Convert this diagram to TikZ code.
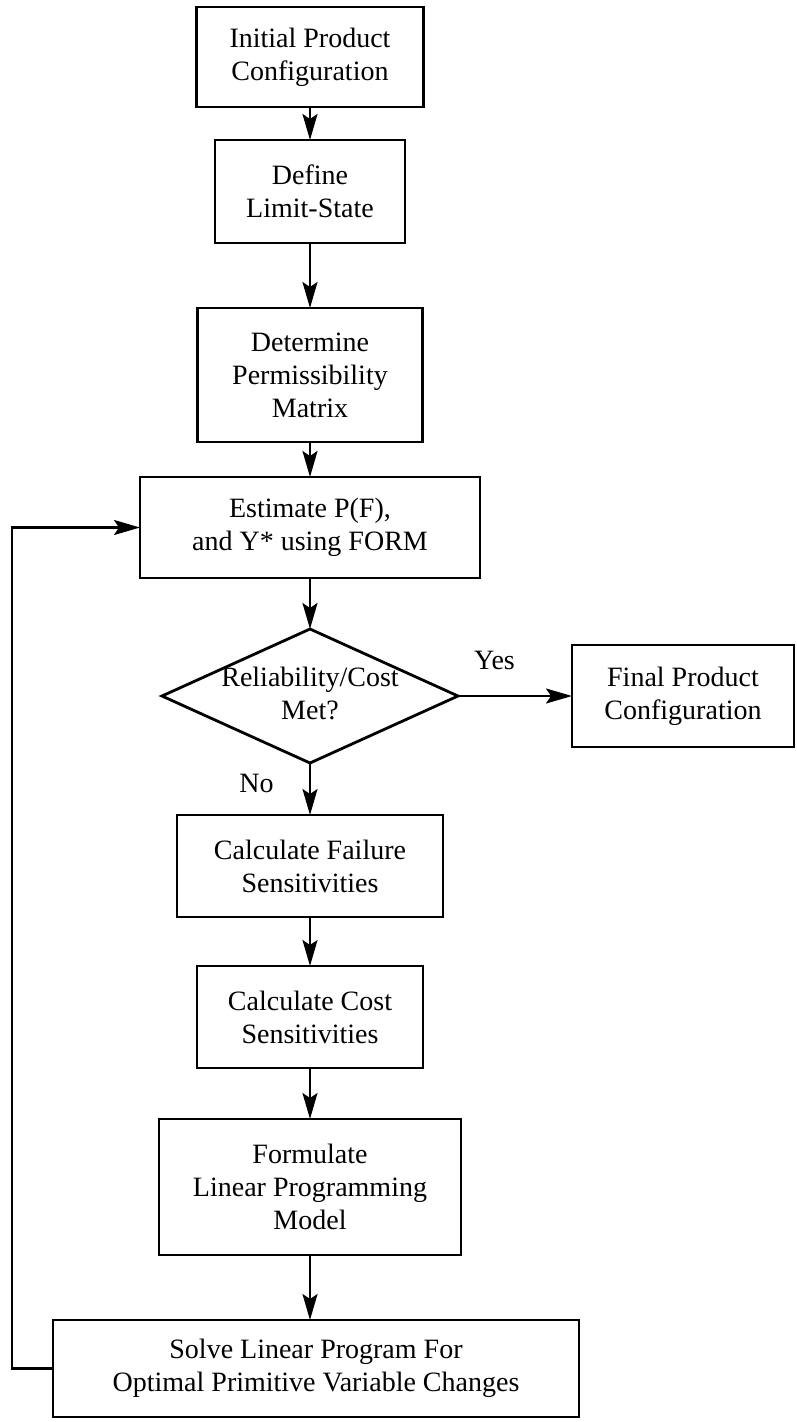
\documentclass[tikz,border=0pt]{standalone}
\usepackage{fontspec}
\setmainfont{Liberation Serif}
\usetikzlibrary{arrows.meta, positioning, shapes.geometric}

\newcommand{\flowfont}{\fontsize{28}{33}\selectfont}

\begin{document}
\begin{tikzpicture}[
  x=1pt, y=1pt,
  box/.style = {
    draw, line width=2.8pt, outer sep=0pt, align=center, inner sep=4pt, font=\flowfont
  },
  decision/.style = {
    diamond, draw, line width=2.8pt, outer sep=0pt, inner sep=0pt, aspect=2.2,
    minimum width=296pt, minimum height=134pt, font=\flowfont
  },
  arr/.style = {-{Stealth[length=26pt, width=15pt, inset=5pt]}, line width=2.2pt},
  branch/.style = {font=\flowfont},
]

\useasboundingbox[fill=white] (0,0) rectangle (797,-1422);

\node[box, minimum width=227pt, minimum height=100pt] (init) at (310,-57)
  {Initial Product\\Configuration};
\node[box, minimum width=190pt, minimum height=103pt] (limit) [below=33pt of init]
  {Define\\Limit-State};
\node[box, minimum width=225pt, minimum height=134pt] (permis) [below=65pt of limit]
  {Determine\\Permissibility\\Matrix};
\node[box, minimum width=340pt, minimum height=101pt] (estimate) [below=35pt of permis]
  {Estimate P(F),\\and Y* using FORM};
\node[decision] (check) [below=51pt of estimate]
  {\makebox[0pt]{\begin{tabular}{@{}c@{}}Reliability/Cost\\Met?\end{tabular}}};
\node[box, minimum width=222pt, minimum height=102pt] (final) [right=114pt of check]
  {Final Product\\Configuration};
\node[box, minimum width=266pt, minimum height=102pt] (failure) [below=52pt of check]
  {Calculate Failure\\Sensitivities};
\node[box, minimum width=226pt, minimum height=102pt] (cost) [below=49pt of failure]
  {Calculate Cost\\Sensitivities};
\node[box, minimum width=302pt, minimum height=136pt] (lpmodel) [below=51pt of cost]
  {Formulate\\Linear Programming\\Model};
\node[box, minimum width=526pt, minimum height=97pt] (solve) [below=65pt of lpmodel, xshift=6pt]
  {Solve Linear Program For\\Optimal Primitive Variable Changes};

\coordinate (loopx) at (12,0);

\draw[arr] (init)     -- (limit);
\draw[arr] (limit)    -- (permis);
\draw[arr] (permis)   -- (estimate);
\draw[arr] (estimate) -- (check);
\draw[arr] (check.east) -- node[branch, above=22pt, pos=0.32] {Yes} (final.west);
\draw[arr] (check.south) -- node[branch, left=32pt, pos=0.4] {No} (failure.north);
\draw[arr] (failure)  -- (cost);
\draw[arr] (cost)     -- (lpmodel);
\draw[arr] (lpmodel.south) -- (lpmodel.south |- solve.north);

% feedback loop
\draw[arr] (solve.west) -- (solve.west -| loopx) |- (estimate.west);

\end{tikzpicture}
\end{document}
